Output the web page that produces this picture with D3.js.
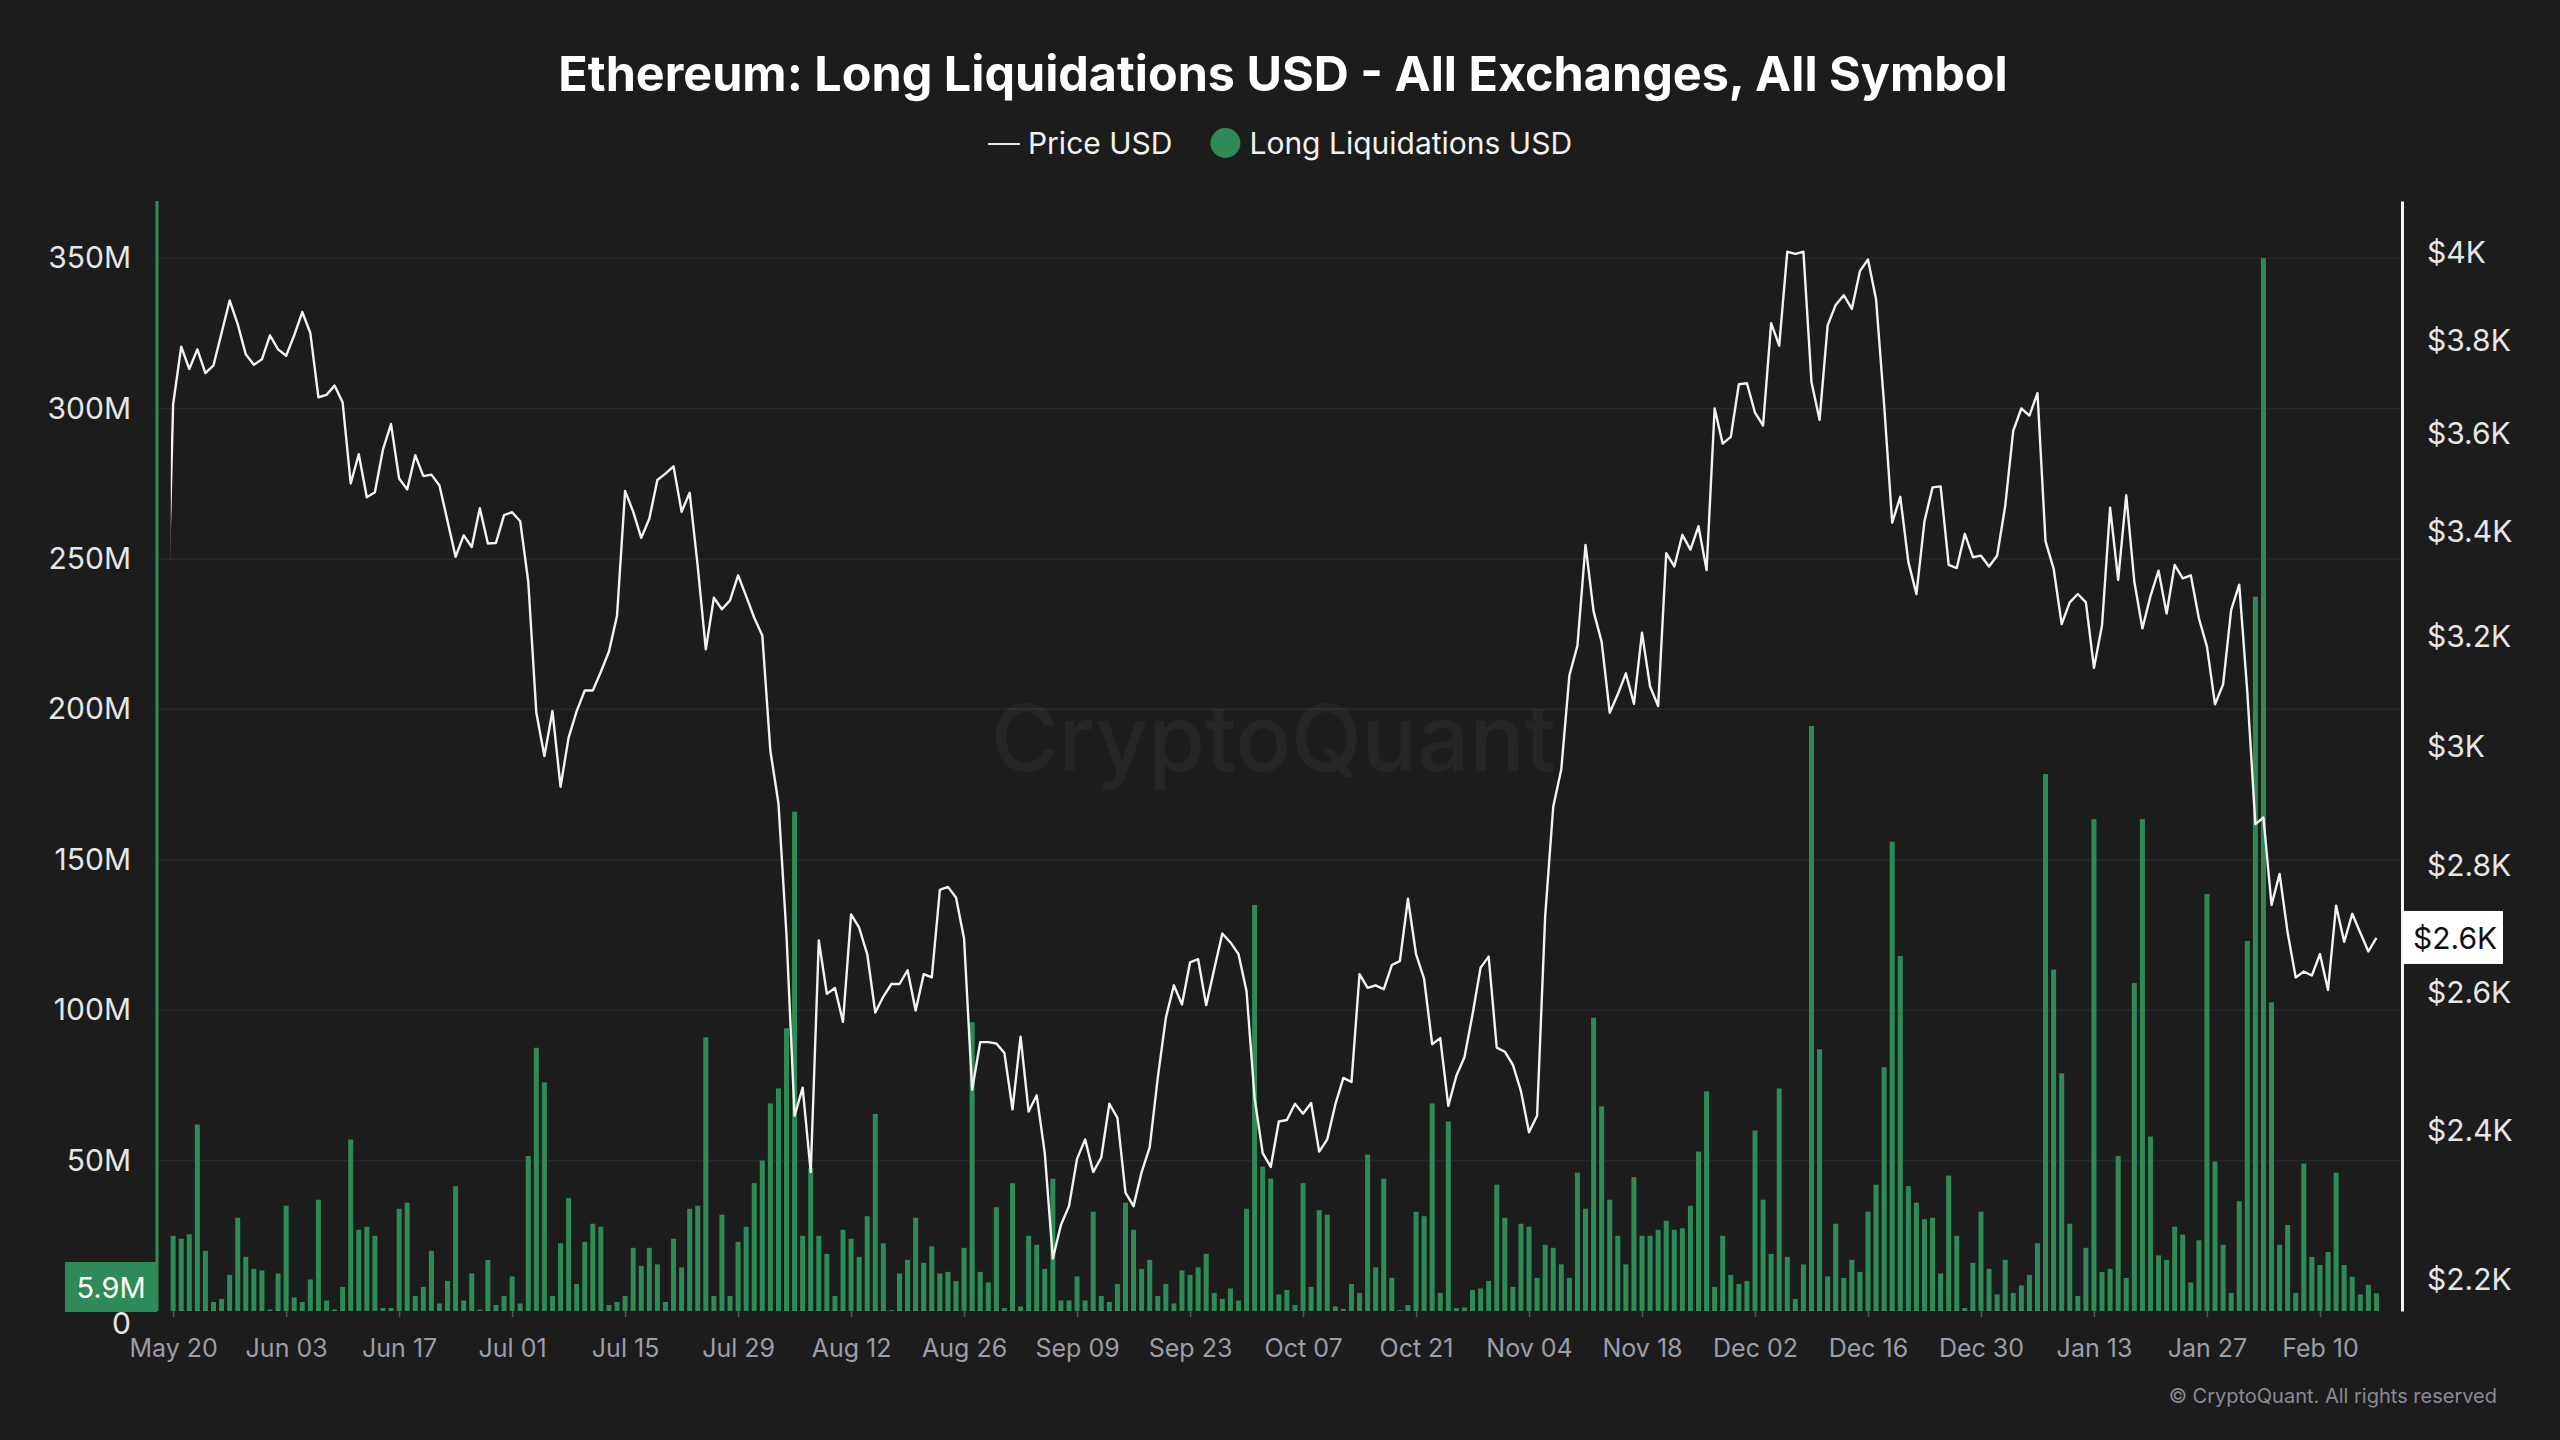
<!DOCTYPE html>
<html>
<head>
<meta charset="utf-8">
<script src="https://cdn.jsdelivr.net/npm/d3@7"></script>
<style>
  html, body { margin: 0; padding: 0; background: #1c1c1d; }
  svg { display: block; font-family: Inter, "Noto Sans", sans-serif; }
</style>
</head>
<body>
<div id="chart"></div>
<script>
// chart data
var title = "Ethereum: Long Liquidations USD - All Exchanges, All Symbol";
var seriesNames = ["Price USD", "Long Liquidations USD"];
var firstDay = "2024-05-20";
var priceBefore = { day: "2024-05-19", value: 3071 };

// daily ETH price, USD
var price = [
  3663, 3788, 3739, 3782, 3730, 3747, 3818, 3891, 3838, 3771,
  3748, 3760, 3813, 3782, 3768, 3813, 3865, 3818, 3678, 3683,
  3703, 3667, 3498, 3558, 3470, 3480, 3568, 3621, 3508, 3486,
  3556, 3513, 3516, 3494, 3422, 3352, 3394, 3371, 3448, 3378,
  3379, 3434, 3440, 3422, 3304, 3061, 2985, 3064, 2932, 3017,
  3064, 3101, 3101, 3135, 3172, 3239, 3483, 3441, 3389, 3427,
  3505, 3518, 3533, 3441, 3479, 3333, 3176, 3273, 3251, 3268,
  3316, 3276, 3235, 3202, 2994, 2904, 2689, 2421, 2461, 2343,
  2681, 2599, 2608, 2557, 2722, 2701, 2660, 2571, 2595, 2614,
  2614, 2635, 2574, 2629, 2624, 2761, 2766, 2749, 2684, 2458,
  2527, 2527, 2525, 2511, 2430, 2535, 2427, 2450, 2369, 2228,
  2272, 2297, 2361, 2388, 2343, 2363, 2438, 2418, 2315, 2297,
  2343, 2377, 2475, 2563, 2612, 2583, 2647, 2652, 2582, 2637,
  2692, 2678, 2660, 2603, 2446, 2369, 2350, 2413, 2415, 2438,
  2424, 2439, 2371, 2388, 2437, 2475, 2469, 2629, 2608, 2612,
  2606, 2643, 2649, 2747, 2660, 2622, 2524, 2533, 2435, 2478,
  2505, 2568, 2639, 2656, 2519, 2513, 2494, 2456, 2398, 2421,
  2719, 2898, 2962, 3128, 3183, 3375, 3247, 3190, 3061, 3094,
  3132, 3077, 3207, 3108, 3073, 3359, 3333, 3395, 3366, 3412,
  3326, 3654, 3580, 3594, 3706, 3708, 3645, 3618, 3840, 3790,
  4003, 3998, 4003, 3710, 3630, 3835, 3881, 3903, 3872, 3958,
  3985, 3894, 3662, 3419, 3471, 3342, 3280, 3422, 3490, 3492,
  3336, 3330, 3397, 3351, 3354, 3333, 3354, 3452, 3607, 3654,
  3639, 3687, 3382, 3329, 3223, 3264, 3280, 3264, 3142, 3221,
  3449, 3307, 3474, 3304, 3215, 3276, 3325, 3243, 3336, 3310,
  3316, 3234, 3181, 3076, 3112, 3250, 3298, 3098, 2869, 2880,
  2737, 2787, 2693, 2624, 2633, 2627, 2660, 2605, 2736, 2679,
  2723, 2693, 2664, 2685
];

// daily long liquidations, millions USD
var liquidations = [
  25, 24, 25.5, 62, 20, 3, 4, 12, 31, 18,
  14, 13.5, 0.5, 12.5, 35, 4.5, 3, 10.5, 37, 3.5,
  0.5, 8, 57, 27, 28, 25, 1, 1, 34, 36,
  5, 8, 20, 2.5, 10, 41.5, 3.5, 12.5, 0.5, 17,
  2, 5, 11.5, 2.5, 51.5, 87.5, 76, 5, 22.5, 37.5,
  9, 23, 29, 28, 2, 3, 5, 21, 15, 21,
  15.5, 3, 24, 14.5, 34, 35, 91, 5, 32, 5,
  23, 28, 42.5, 50, 69, 74, 94, 166, 25, 47.5,
  25, 19, 5, 27, 24, 18, 31.5, 65.5, 22.5, 0.3,
  12.5, 17, 31, 16, 21.5, 12.5, 13, 10, 21, 96,
  13, 9.5, 34.5, 1, 42.5, 1.5, 25, 22, 14, 44,
  3.5, 3.5, 11.5, 3.5, 33, 5, 3, 9, 36, 27,
  14, 17, 5, 9, 2.5, 13.5, 12, 14.5, 19, 6,
  4, 7.5, 3.5, 34, 135, 48, 44, 5.5, 7, 2,
  42.5, 8, 33.5, 32, 1.5, 0.7, 9, 6, 52, 14.5,
  44, 11, 0.3, 2, 33, 31.5, 69, 6, 63, 1,
  1.2, 7, 7.5, 10, 42, 31, 8, 29, 28, 11,
  22, 21, 15.5, 11, 46, 34, 97.5, 68, 37, 25,
  15.5, 44.5, 25, 25, 27, 30, 27, 27.5, 35, 53,
  73, 8, 25, 12, 9, 10, 60, 37, 19, 74,
  18, 4, 15.5, 194.5, 87, 11.5, 29, 11, 17, 13,
  33, 42, 81, 156, 118, 41.5, 36, 30.5, 31, 12.5,
  45, 25, 1, 16, 33, 14, 5.5, 17, 6, 8.5,
  12, 22.5, 178.5, 113.5, 79, 29, 5, 21, 163.5, 13,
  14, 51.5, 11, 109, 163.5, 58, 18.5, 17, 28, 25.4,
  9.5, 23.5, 138.6, 49.7, 22, 6, 36.5, 123, 237.5, 350,
  102.6, 22, 28.6, 6, 49, 18, 15.3, 19.6, 46, 15.3,
  11.4, 5.5, 8.7, 5.9
];

var leftTicks = [0, 50, 100, 150, 200, 250, 300, 350];          // millions
var rightTicks = [2200, 2400, 2600, 2800, 3000, 3200, 3400, 3600, 3800, 4000];
var dateTicks = ["2024-05-20", "2024-06-03", "2024-06-17", "2024-07-01", "2024-07-15",
  "2024-07-29", "2024-08-12", "2024-08-26", "2024-09-09", "2024-09-23", "2024-10-07",
  "2024-10-21", "2024-11-04", "2024-11-18", "2024-12-02", "2024-12-16", "2024-12-30",
  "2025-01-13", "2025-01-27", "2025-02-10"];

var W = 2560, H = 1440,
    margin = { top: 201, right: 158, bottom: 129, left: 157 },
    width = W - margin.left - margin.right,
    height = H - margin.top - margin.bottom,
    green = "#2e8b57";

var parse = d3.timeParse("%Y-%m-%d");
var day0 = parse(firstDay);

var rows = price.map(function (p, i) {
    return { date: d3.timeDay.offset(day0, i), price: p, liq: liquidations[i] * 1e6 };
});
var line_rows = [{ date: parse(priceBefore.day), price: priceBefore.value }].concat(rows);

var x = d3.scaleTime()
    .domain([d3.timeDay.offset(day0, -2), d3.timeHour.offset(d3.timeDay.offset(day0, 276), 4)])
    .range([0, width]);

var yL = d3.scaleLinear()
    .domain([0, 369e6])
    .range([height, 0]);

var yR = d3.scaleLog()
    .domain([2161, 4123])
    .range([height, 0]);

var svg = d3.select("#chart").append("svg")
    .attr("width", W)
    .attr("height", H);

svg.append("rect")
    .attr("width", W)
    .attr("height", H)
    .attr("fill", "#1c1c1d");

// title + legend
svg.append("text")
    .attr("x", W / 2 + 3)
    .attr("y", 91)
    .attr("text-anchor", "middle")
    .attr("fill", "#ffffff")
    .style("font-size", "48.5px")
    .style("font-weight", 700)
    .text(title);

var legend = svg.append("g");
legend.append("line")
    .attr("x1", 0).attr("x2", 32)
    .attr("y1", 144).attr("y2", 144)
    .attr("stroke", "#e8e8e8")
    .attr("stroke-width", 2);
var l1 = legend.append("text")
    .attr("x", 40)
    .attr("y", 154)
    .attr("fill", "#f2f2f2")
    .style("font-size", "30px")
    .text(seriesNames[0]);
var lx = 40 + l1.node().getComputedTextLength() + 38;
legend.append("circle")
    .attr("cx", lx + 15)
    .attr("cy", 143)
    .attr("r", 15)
    .attr("fill", green);
var l2 = legend.append("text")
    .attr("x", lx + 39)
    .attr("y", 154)
    .attr("fill", "#f2f2f2")
    .style("font-size", "30px")
    .text(seriesNames[1]);
var lw = lx + 39 + l2.node().getComputedTextLength();
legend.attr("transform", "translate(" + (W / 2 - lw / 2) + ",0)");

var g = svg.append("g")
    .attr("transform", "translate(" + margin.left + "," + margin.top + ")");

// grid
g.selectAll(".grid")
    .data(leftTicks.slice(1))
    .enter().append("line")
    .attr("class", "grid")
    .attr("x1", 0).attr("x2", width)
    .attr("y1", function (d) { return yL(d * 1e6); })
    .attr("y2", function (d) { return yL(d * 1e6); })
    .attr("stroke", "#282833")
    .attr("stroke-width", 1.5);

// watermark
g.append("text")
    .attr("x", width / 2 - 6)
    .attr("y", 545)
    .attr("text-anchor", "middle")
    .attr("dominant-baseline", "middle")
    .attr("fill", "#ffffff")
    .attr("fill-opacity", 0.045)
    .style("font-size", "92px")
    .style("font-weight", 500)
    .text("CryptoQuant");

// bars
g.selectAll(".bar")
    .data(rows)
    .enter().append("rect")
    .attr("class", "bar")
    .attr("x", function (d) { return x(d.date) - 2.5; })
    .attr("width", 5)
    .attr("y", function (d) { return yL(d.liq); })
    .attr("height", function (d) { return height - yL(d.liq); })
    .attr("fill", green);

// price line
g.append("clipPath")
    .attr("id", "clip")
    .append("rect")
    .attr("x", x(d3.timeHour.offset(parse(priceBefore.day), 17)))
    .attr("y", 0)
    .attr("width", width)
    .attr("height", height);

var line = d3.line()
    .x(function (d) { return x(d.date); })
    .y(function (d) { return yR(d.price); });

g.append("path")
    .datum(line_rows)
    .attr("clip-path", "url(#clip)")
    .attr("fill", "none")
    .attr("stroke", "#f2f2f2")
    .attr("stroke-width", 2.4)
    .attr("stroke-linejoin", "round")
    .attr("d", line);

// axes
var axL = g.append("g")
    .call(d3.axisLeft(yL)
        .tickValues(leftTicks.map(function (d) { return d * 1e6; }))
        .tickFormat(function (d) { return d === 0 ? "0" : d / 1e6 + "M"; })
        .tickSize(0)
        .tickPadding(26));
axL.select(".domain").remove();
axL.selectAll("text")
    .attr("fill", "#e6e6e6")
    .style("font-size", "30px")
    .style("font-family", "Inter, sans-serif");
// the zero label sits mostly under the last-value flag, as in the source
axL.selectAll(".tick")
    .filter(function (d) { return d === 0; })
    .select("text")
    .attr("dy", "0.75em");

g.append("line")
    .attr("x1", 0).attr("x2", 0)
    .attr("y1", 0).attr("y2", height)
    .attr("stroke", green)
    .attr("stroke-width", 3);

var axR = g.append("g")
    .attr("transform", "translate(" + width + ",0)")
    .call(d3.axisRight(yR)
        .tickValues(rightTicks)
        .tickFormat(function (d) { return "$" + (d / 1000) + "K"; })
        .tickSize(0)
        .tickPadding(25));
axR.select(".domain")
    .attr("stroke", "#f2f2f2")
    .attr("stroke-width", 3);
axR.selectAll("text")
    .attr("fill", "#e6e6e6")
    .style("font-size", "30px")
    .style("font-family", "Inter, sans-serif");

var axB = g.append("g")
    .attr("transform", "translate(0," + height + ")")
    .call(d3.axisBottom(x)
        .tickValues(dateTicks.map(parse))
        .tickFormat(d3.timeFormat("%b %d"))
        .tickSize(6)
        .tickPadding(22));
axB.select(".domain").remove();
axB.selectAll("line").attr("stroke", "#55555e").attr("stroke-width", 1.5);
axB.selectAll("text")
    .attr("fill", "#9d9da8")
    .style("font-size", "25px")
    .style("font-family", "Inter, sans-serif");

// last value flags
var last = rows[rows.length - 1];
var ly = Math.min(yL(last.liq), height - 24);
g.append("rect")
    .attr("x", -92).attr("y", ly - 25)
    .attr("width", 92).attr("height", 50)
    .attr("fill", green);
g.append("text")
    .attr("x", -46).attr("y", ly)
    .attr("text-anchor", "middle")
    .attr("dominant-baseline", "central")
    .attr("fill", "#ffffff")
    .style("font-size", "29px")
    .text(d3.format(".1f")(last.liq / 1e6) + "M");

var py = yR(last.price);
g.append("rect")
    .attr("x", width + 1).attr("y", py - 27)
    .attr("width", 100).attr("height", 53)
    .attr("fill", "#ffffff");
g.append("text")
    .attr("x", width + 11).attr("y", py)
    .attr("dominant-baseline", "central")
    .attr("fill", "#111111")
    .style("font-size", "30px")
    .text("$" + Math.floor(last.price / 100) / 10 + "K");

svg.append("text")
    .attr("x", 2497)
    .attr("y", 1403)
    .attr("text-anchor", "end")
    .attr("fill", "#8a8a94")
    .style("font-size", "20px")
    .text("\u00a9 CryptoQuant. All rights reserved");
</script>
</body>
</html>
